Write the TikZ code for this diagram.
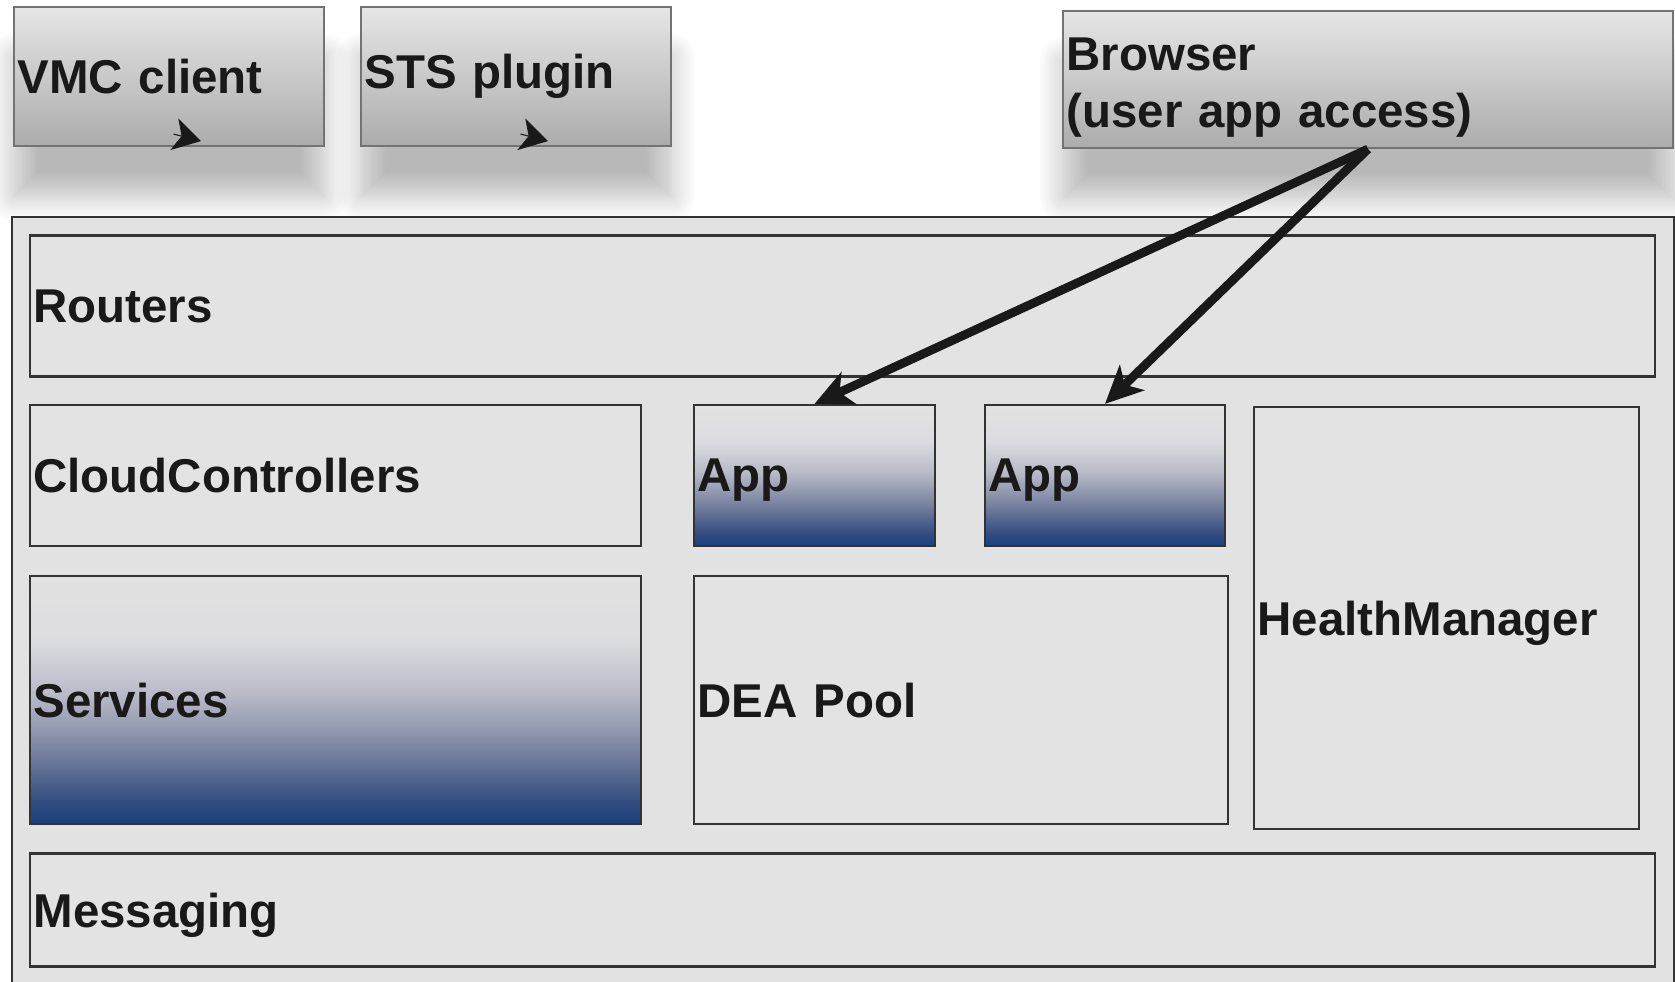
\documentclass[tikz,border=0pt]{standalone}
\usepackage{fontspec}
\setmainfont{Liberation Sans}
\usepackage{xcolor}
\usetikzlibrary{arrows.meta,shapes,positioning,shadows,shadows.blur,calc}

\definecolor{boxfill}{HTML}{E3E3E3}
\definecolor{outerfill}{HTML}{E2E2E2}
\definecolor{lineclr}{HTML}{333333}
\definecolor{topgray}{HTML}{E6E6E6}
\definecolor{botgray}{HTML}{ACACAC}
\definecolor{shA}{HTML}{1A3F7F}
\definecolor{shB}{HTML}{334C80}
\definecolor{shC}{HTML}{7A83A0}
\definecolor{shD}{HTML}{B8BAC6}
\definecolor{shE}{HTML}{DCDCE0}
\definecolor{shF}{HTML}{E2E2E2}

\pgfdeclareverticalshading{appshade}{100bp}{color(0bp)=(shA); color(25bp)=(shA); color(29.5bp)=(shB); color(40bp)=(shC); color(51bp)=(shD); color(62bp)=(shE); color(75bp)=(shF); color(100bp)=(shF)}

\tikzset{
  lbl/.style={font=\bfseries\fontsize{27}{32}\selectfont, align=left, inner sep=2pt, text=black!90},
  clientbox/.style={lbl, draw=black!55, line width=1.2pt, top color=topgray, bottom color=botgray,
    blur shadow={shadow xshift=0pt, shadow yshift=-1.0cm, shadow opacity=28, shadow blur radius=0.5cm, shadow blur steps=15}},
  layerbox/.style={lbl, text depth=0pt, draw=lineclr, line width=1.3pt, fill=boxfill},
  appbox/.style={layerbox, shading=appshade},
  link/.style={-{Stealth[length=0.75cm,width=0.7cm,inset=0.2cm]}, line width=5pt, draw=black!90},
  pointer/.style={-{Stealth[length=0.55cm,width=0.65cm,inset=0.15cm]}, line width=0.6pt, draw=black!90}
}

\begin{document}
\begin{tikzpicture}
    \useasboundingbox (0,0) rectangle (33.5,-19.62);

    % Clients on top
    \node[clientbox, text width=6.06cm, minimum height=2.78cm] (vmc) at (3.38,-1.53) {VMC client};
    \node[clientbox, text width=6.06cm, minimum height=2.78cm] (sts) at (10.32,-1.53) {STS plugin};
    \node[clientbox, text width=12.06cm, minimum height=2.74cm, text depth=1cm] (browser) at (27.36,-1.59) {Browser\\(user app access)};

    % Cloud frame
    \node[draw=lineclr, line width=1.3pt, fill=outerfill, minimum width=33.24cm, minimum height=17cm, anchor=north west] (cloud) at (0.22,-4.32) {};

    % Layers inside the cloud
    \node[layerbox, text width=32.36cm, minimum height=2.82cm] (routers) at (16.85,-6.12) {Routers};
    \node[layerbox, text width=12.08cm, minimum height=2.82cm] (cc) at (6.71,-9.51) {CloudControllers};
    \node[appbox, text width=4.68cm, minimum height=2.82cm] (app1) at (16.29,-9.51) {App};
    \node[appbox, text width=4.66cm, minimum height=2.82cm] (app2) at (22.10,-9.51) {App};
    \node[layerbox, text width=7.56cm, minimum height=8.44cm] (hm) at (28.93,-12.36) {HealthManager};
    \node[appbox, text width=12.08cm, minimum height=4.96cm] (services) at (6.71,-14.00) {Services};
    \node[layerbox, text width=10.54cm, minimum height=4.96cm] (dea) at (19.22,-14.00) {DEA Pool};
    \node[layerbox, text width=32.36cm, minimum height=2.26cm] (msg) at (16.85,-18.20) {Messaging};

    % Small arrow heads in the client boxes
    \coordinate (vmc tip) at ($(vmc.south)+(0.64,0.12)$);
    \coordinate (sts tip) at ($(sts.south)+(0.64,0.12)$);
    \draw[pointer] ($(vmc tip)+(-0.55,0.14)$) -- (vmc tip);
    \draw[pointer] ($(sts tip)+(-0.55,0.14)$) -- (sts tip);

    % User access from the browser to the apps
    \draw[link] (browser.south) -- (app1.north);
    \draw[link] (browser.south) -- (app2.north);
\end{tikzpicture}
\end{document}
